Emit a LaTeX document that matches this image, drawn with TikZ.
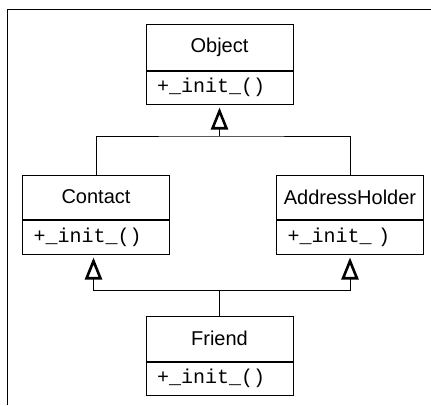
\documentclass[tikz,border=0pt]{standalone}
\usepackage{fontspec}
\setmainfont{Liberation Sans}
\setmonofont{Liberation Mono}
\usetikzlibrary{arrows.meta,calc}
\begin{document}
\begin{tikzpicture}[x=1pt,y=-1pt,
  title/.style={draw,line width=1pt,minimum width=147pt,inner sep=0pt,font=\fontsize{20}{24}\selectfont},
  meth/.style={draw,line width=1pt,minimum width=147pt,minimum height=33pt,inner xsep=11pt,inner ysep=0pt,text width=125pt,align=left,font=\ttfamily\fontsize{20}{24}\selectfont},
  inh/.style={line width=1pt},
  gen/.style={-{Triangle[open,width=17pt,length=22pt,line width=2.6pt]},shorten >=3pt}]
\useasboundingbox (0,0) rectangle (431,405);
% frame
\draw[line width=1.3pt] (7.7,405) -- (7.7,9.7) -- (431,9.7);
% classes
\node[title,minimum height=46pt] (obj) at (219.5,47) {Object};
\node[meth,anchor=north] (objm) at (obj.south) {+\_init\_()};
\node[title,minimum height=44pt] (con) at (96,197) {Contact};
\node[meth,anchor=north,minimum height=34pt] (conm) at (con.south) {+\_init\_()};
\node[title,minimum height=44pt] (adr) at (350,197) {AddressHolder};
\node[meth,anchor=north,minimum height=34pt] (adrm) at (adr.south) {+\_init\_ )};
\node[title,minimum height=45pt] (fri) at (219.5,338.5) {Friend};
\node[meth,anchor=north] (frim) at (fri.south) {+\_init\_()};
% junctions
\coordinate (j1) at (219.5,136);
\coordinate (j2) at (219.5,290);
% connectors
\draw[inh] (con.north) |- (j1) -| (adr.north);
\draw[inh,gen] (j1) -- (objm.south);
\draw[inh] (fri.north) -- (j2);
\draw[inh,gen] (j2) -| ([xshift=-2.5pt]conm.south);
\draw[inh,gen] (j2) -| (adrm.south);
\end{tikzpicture}
\end{document}
